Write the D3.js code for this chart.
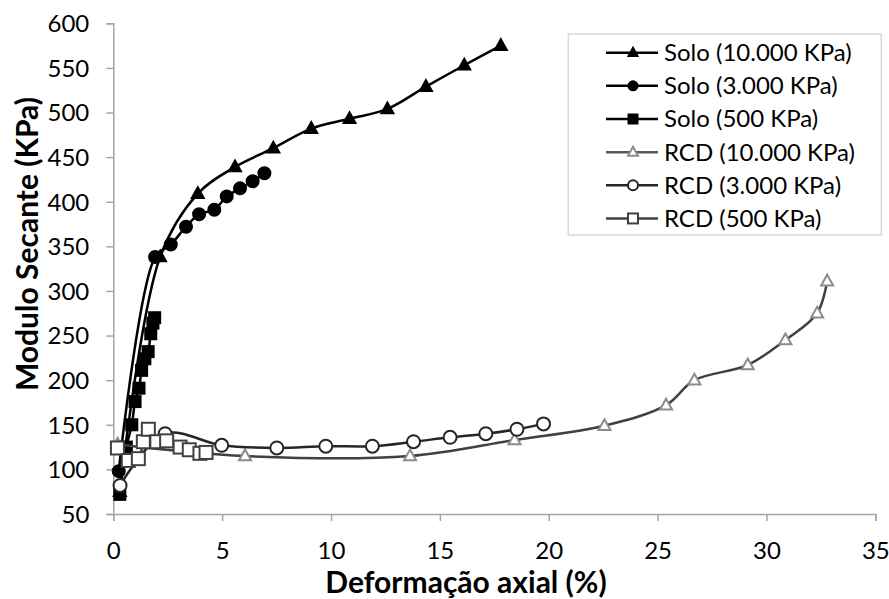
<!DOCTYPE html>
<html><head><meta charset="utf-8">
<script src="https://cdn.jsdelivr.net/npm/d3@7"></script>
<style>body{margin:0;background:#fff;} svg{display:block;}</style>
</head><body>
<script>
// ---- Data ----
const xTicks = [0, 5, 10, 15, 20, 25, 30, 35];
const yTicks = [50, 100, 150, 200, 250, 300, 350, 400, 450, 500, 550, 600];
const seriesNames = ["Solo (10.000 KPa)", "Solo (3.000 KPa)", "Solo (500 KPa)", "RCD (10.000 KPa)", "RCD (3.000 KPa)", "RCD (500 KPa)"];

const solo10000X = [0.3, 2.15, 3.88, 5.59, 7.35, 9.09, 10.85, 12.59, 14.36, 16.12, 17.8];
const solo10000Y = [75, 338, 409, 439, 460, 482, 493, 504, 529, 553, 575];

const solo3000X = [0.25, 1.92, 2.64, 3.34, 3.94, 4.64, 5.21, 5.82, 6.4, 6.94];
const solo3000Y = [98, 338, 352, 372, 386, 391, 406, 415, 423, 432];

const solo500X = [0.3, 0.6, 0.85, 1.0, 1.18, 1.3, 1.45, 1.6, 1.72, 1.82, 1.9];
const solo500Y = [72, 125, 150, 176, 191, 211, 224, 232, 252, 264, 270];

const rcd10000X = [0.2, 6.05, 13.63, 18.43, 22.56, 25.39, 26.69, 29.14, 30.87, 32.33, 32.79];
const rcd10000Y = [128, 115, 115, 133, 149, 172, 200, 217, 245, 275, 311];

const rcd3000X = [0.31, 2.38, 4.98, 7.51, 9.76, 11.9, 13.79, 15.47, 17.11, 18.54, 19.76];
const rcd3000Y = [82, 140, 127, 124, 126, 126, 131, 136, 140, 145, 151];

const rcd500X = [0.19, 0.69, 1.15, 1.38, 1.61, 2.0, 2.45, 3.07, 3.49, 3.98, 4.26];
const rcd500Y = [124, 110, 112, 131, 145, 131, 132, 125, 122, 118, 119];

// ---- Layout ----
const W = 889, H = 599;
const svg = d3.select("body").append("svg").attr("width", W).attr("height", H);
const x = d3.scaleLinear().domain([0, 35]).range([113.3, 875.3]);
const y = d3.scaleLinear().domain([50, 600]).range([514, 23.3]);
const FONT = "Lato, 'Open Sans', sans-serif";
const axisColor = "#a6a6a6";

// axes
const gx = svg.append("g").attr("transform", `translate(0,${y(50)})`)
  .call(d3.axisBottom(x).tickValues(xTicks).tickSize(7).tickPadding(21).tickFormat(d3.format("d")));
const gy = svg.append("g").attr("transform", `translate(${x(0)},0)`)
  .call(d3.axisLeft(y).tickValues(yTicks).tickSize(7).tickPadding(17).tickFormat(d3.format("d")));
[gx, gy].forEach(g => {
  g.select(".domain").attr("stroke", axisColor).attr("stroke-width", 1.5);
  g.selectAll(".tick line").attr("stroke", axisColor).attr("stroke-width", 1.5);
  g.selectAll(".tick text").attr("fill", "#000").style("font-family", FONT).style("font-size", "24px");
});
gy.selectAll(".tick text").attr("dy", "0.35em");

// axis titles
svg.append("text").attr("x", 466).attr("y", 593).attr("text-anchor", "middle")
  .style("font-family", FONT).style("font-size", "30px").style("font-weight", "bold")
  .text("Deformação axial (%)");
svg.append("text").attr("transform", `translate(38,244) rotate(-90)`).attr("text-anchor", "middle")
  .style("font-family", FONT).style("font-size", "30px").style("font-weight", "bold")
  .text("Modulo Secante (KPa)");

// series
const styles = [
  {xs: solo10000X, ys: solo10000Y, line: "#000", mk: "triangle", fill: "#000", stroke: "#000", size: 12},
  {xs: solo3000X, ys: solo3000Y, line: "#000", mk: "circle", fill: "#000", stroke: "#000", size: 12},
  {xs: solo500X, ys: solo500Y, line: "#000", mk: "square", fill: "#000", stroke: "#000", size: 11},
  {xs: rcd10000X, ys: rcd10000Y, line: "#404040", mk: "triangle", fill: "#fff", stroke: "#8c8c8c", size: 12},
  {xs: rcd3000X, ys: rcd3000Y, line: "#262626", mk: "circle", fill: "#fff", stroke: "#262626", size: 13},
  {xs: rcd500X, ys: rcd500Y, line: "#404040", mk: "square", fill: "#fff", stroke: "#404040", size: 13},
];

function drawMarker(g, type, cx, cy, s, fill, stroke, sw) {
  if (type === "circle") {
    g.append("circle").attr("cx", cx).attr("cy", cy).attr("r", s / 2)
      .attr("fill", fill).attr("stroke", stroke).attr("stroke-width", sw);
  } else if (type === "square") {
    g.append("rect").attr("x", cx - s / 2).attr("y", cy - s / 2).attr("width", s).attr("height", s)
      .attr("fill", fill).attr("stroke", stroke).attr("stroke-width", sw);
  } else {
    const h = s * 0.9;
    g.append("path").attr("d", `M${cx},${cy - h * 0.6}L${cx + s / 2},${cy + h * 0.4}L${cx - s / 2},${cy + h * 0.4}Z`)
      .attr("fill", fill).attr("stroke", stroke).attr("stroke-width", sw);
  }
}

const lineGen = d3.line().x(d => x(d[0])).y(d => y(d[1])).curve(d3.curveCatmullRom.alpha(0.5));
styles.forEach(s => {
  const pts = s.xs.map((v, i) => [v, s.ys[i]]);
  const g = svg.append("g");
  g.append("path").attr("d", lineGen(pts)).attr("fill", "none").attr("stroke", s.line).attr("stroke-width", 2.5);
  pts.forEach(p => drawMarker(g, s.mk, x(p[0]), y(p[1]), s.size, s.fill, s.stroke, 2));
});

// legend
const lg = svg.append("g");
lg.append("rect").attr("x", 568.3).attr("y", 34).attr("width", 313).attr("height", 201)
  .attr("fill", "#fff").attr("stroke", "#d9d9d9").attr("stroke-width", 1.5);
seriesNames.forEach((name, i) => {
  const cy = 52.7 + i * 33.15;
  const s = styles[i];
  lg.append("line").attr("x1", 606).attr("x2", 658).attr("y1", cy).attr("y2", cy)
    .attr("stroke", i === 3 ? "#595959" : s.line).attr("stroke-width", 2.5);
  drawMarker(lg, s.mk, 633, cy, i < 3 ? 9 : 10, s.fill, s.stroke, 2);
  lg.append("text").attr("x", 664).attr("y", cy).attr("dy", "0.35em")
    .style("font-family", FONT).style("font-size", "24px").text(name);
});
</script>
</body></html>
